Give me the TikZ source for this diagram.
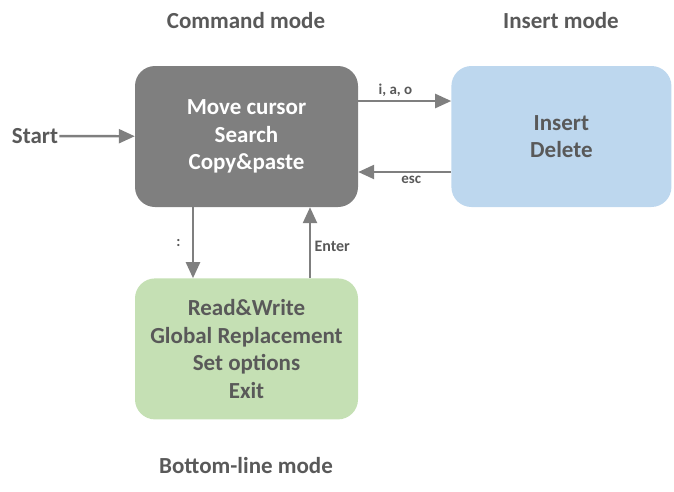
\documentclass[tikz,border=0pt]{standalone}
\usepackage{fontspec}
\setmainfont{Carlito}
\usetikzlibrary{positioning,arrows.meta}

\definecolor{cmdgray}{HTML}{7F7F7F}
\definecolor{textgray}{HTML}{595959}
\definecolor{insblue}{HTML}{BDD7EE}
\definecolor{botgreen}{HTML}{C5E0B4}

\begin{document}
\begin{tikzpicture}[
        x=1pt, y=-1pt,
        node distance=93pt,
        mode/.style={rectangle, rounded corners=20pt, align=center, minimum width=223pt, minimum height=141pt, inner sep=0pt, font=\fontsize{23}{27.5}\selectfont\bfseries},
        title/.style={font=\fontsize{23}{26}\selectfont\bfseries, text=textgray},
        lbl/.style={font=\fontsize{15}{17}\selectfont\bfseries, text=textgray},
        arrow/.style={-{Triangle[length=16pt, width=14pt]}, line width=2.4pt, draw=cmdgray}
    ]
        \useasboundingbox (0,0) rectangle (674,491);

        \node[mode, fill=cmdgray, text=white] (cmd) at (246.5,136.5) {Move cursor\\Search\\Copy\&paste};
        \node[mode, fill=insblue, text=textgray, minimum width=220pt, right=of cmd] (ins) {Insert\\Delete};
        \node[mode, fill=botgreen, text=textgray, below=71pt of cmd] (bot) {Read\&Write\\Global Replacement\\Set options\\Exit};

        \node[title] (cmdtitle) at (246,21) {Command mode};
        \node[title] (institle) at (561,21) {Insert mode};
        \node[title] (bottitle) at (246,466) {Bottom-line mode};
        \node[title, inner sep=1pt] (start) at (35,136) {Start};

        \draw[arrow] (start) -- (cmd);
        \draw[arrow] ([yshift=35.5pt]cmd.east) -- node[lbl, above, pos=0.4] {i, a, o} ([yshift=35.5pt]ins.west);
        \draw[arrow] ([yshift=-35.5pt]ins.west) -- node[lbl, below, pos=0.43] {esc} ([yshift=-35.5pt]cmd.east);
        \draw[arrow] ([xshift=-53.5pt]cmd.south) -- node[lbl, left, xshift=-8pt] {:} ([xshift=-53.5pt]bot.north);
        \draw[arrow] ([xshift=63.5pt]bot.north) -- node[lbl, right, pos=0.45, font=\fontsize{16}{18}\selectfont\bfseries] {Enter} ([xshift=63.5pt]cmd.south);
    \end{tikzpicture}
\end{document}
